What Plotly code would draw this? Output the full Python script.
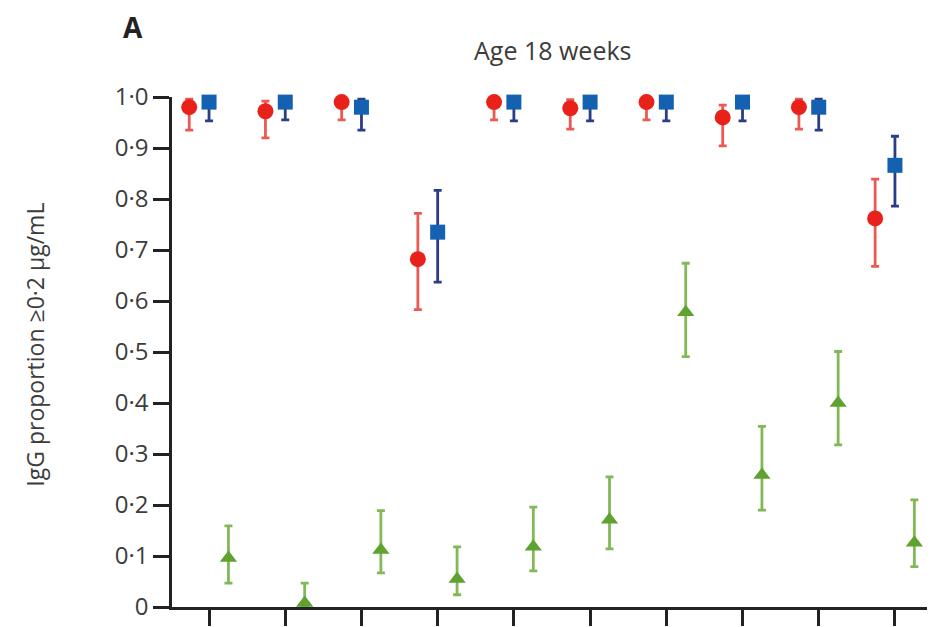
import numpy as np
import plotly.graph_objects as go

# ---- data ----
categories = [1, 2, 3, 4, 5, 6, 7, 8, 9, 10]

red_val = [0.980, 0.972, 0.990, 0.682, 0.990, 0.978, 0.990, 0.960, 0.980, 0.762]
red_lo  = [0.935, 0.920, 0.955, 0.583, 0.955, 0.937, 0.955, 0.904, 0.937, 0.668]
red_hi  = [0.996, 0.992, 0.999, 0.772, 0.999, 0.995, 0.999, 0.984, 0.996, 0.839]

blue_val = [0.990, 0.990, 0.980, 0.735, 0.990, 0.990, 0.990, 0.990, 0.980, 0.866]
blue_lo  = [0.953, 0.955, 0.935, 0.637, 0.953, 0.953, 0.953, 0.953, 0.935, 0.786]
blue_hi  = [0.999, 0.999, 0.996, 0.817, 0.999, 0.999, 0.999, 0.999, 0.996, 0.923]

green_val = [0.096, 0.008, 0.112, 0.055, 0.118, 0.171, 0.578, 0.259, 0.400, 0.126]
green_lo  = [0.047, 0.000, 0.067, 0.024, 0.071, 0.114, 0.491, 0.190, 0.318, 0.079]
green_hi  = [0.159, 0.047, 0.189, 0.118, 0.196, 0.255, 0.674, 0.354, 0.501, 0.210]

y_ticks = [0, 0.1, 0.2, 0.3, 0.4, 0.5, 0.6, 0.7, 0.8, 0.9, 1.0]
y_tick_labels = ["0", "0·1", "0·2", "0·3", "0·4", "0·5", "0·6", "0·7", "0·8", "0·9", "1·0"]

base = np.arange(len(categories))
offset = 0.26

def trace(xs, v, lo, hi, symbol, mcolor, ecolor, size):
    v = np.array(v); lo = np.array(lo); hi = np.array(hi)
    return go.Scatter(
        x=xs, y=v, mode="markers",
        marker=dict(symbol=symbol, color=mcolor, size=size, line=dict(width=0)),
        error_y=dict(type="data", symmetric=False, array=hi - v, arrayminus=v - lo,
                     color=ecolor, thickness=2.8, width=4),
        cliponaxis=False, showlegend=False, hoverinfo="skip",
    )

fig = go.Figure()
fig.add_trace(trace(base - offset, red_val, red_lo, red_hi, "circle", "#e8221b", "#ea5a52", 16))
fig.add_trace(trace(base, blue_val, blue_lo, blue_hi, "square", "#1461b2", "#2a3d86", 15))
fig.add_trace(trace(base + offset * 0.98, green_val, green_lo, green_hi, "triangle-up", "#5fa22f", "#80b956", 15))

axis_col = "#222222"
# the page body adds an 8 px offset, so the figure is 8 px smaller and margins shifted
fig.update_layout(
    width=927, height=619,
    margin=dict(l=164, r=5, t=89, b=20, autoexpand=False),
    paper_bgcolor="white", plot_bgcolor="white",
    font=dict(family="Open Sans, DejaVu Sans, sans-serif", color="#3c3c3c"),
    xaxis=dict(
        range=[-0.486, 9.46], tickvals=list(base), showticklabels=False,
        ticks="outside", ticklen=16, tickwidth=2.5, tickcolor=axis_col,
        showline=True, linecolor=axis_col, linewidth=2.5,
        showgrid=False, zeroline=False, automargin=False,
    ),
    yaxis=dict(
        range=[0, 1.0], tickvals=y_ticks, ticktext=y_tick_labels,
        ticks="outside", ticklen=16, tickwidth=2.5, tickcolor=axis_col,
        showline=True, linecolor=axis_col, linewidth=2.5,
        showgrid=False, zeroline=False, automargin=False,
        tickfont=dict(size=24, color="#3c3c3c"),
    ),
)

fig.add_annotation(text="IgG proportion ≥0·2 µg/mL", xref="paper", yref="paper",
                   x=-0.181, y=0.514, textangle=-90, showarrow=False,
                   xanchor="center", yanchor="middle",
                   font=dict(size=23, color="#3c3c3c"))
fig.add_annotation(text="Age 18 weeks", xref="paper", yref="paper", x=0.503, y=1.092,
                   showarrow=False, xanchor="center", yanchor="middle",
                   font=dict(size=25, color="#3c3c3c"))
fig.add_annotation(text="<b>A</b>", xref="paper", yref="paper", x=-0.051, y=1.137,
                   showarrow=False, xanchor="center", yanchor="middle", borderpad=0,
                   font=dict(size=28, color="#222222"))

fig.write_html("out.html")
